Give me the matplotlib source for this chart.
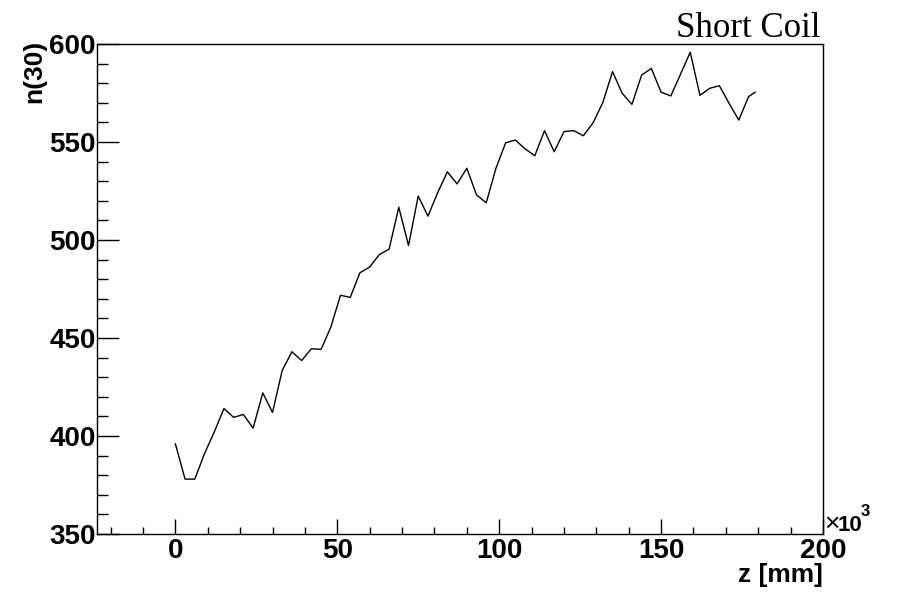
import matplotlib
matplotlib.use("Agg")
import matplotlib.pyplot as plt
from matplotlib.ticker import MultipleLocator

# z positions (x10^3 mm) and n(30) values
z = [0, 3, 6, 9, 12, 15, 18, 21, 24, 27, 30, 33, 36, 39, 42, 45, 48, 51, 54, 57,
     60, 63, 66, 69, 72, 75, 78, 81, 84, 87, 90, 93, 96, 99, 102, 105, 108, 111,
     114, 117, 120, 123, 126, 129, 132, 135, 138, 141, 144, 147, 150, 153, 156,
     159, 162, 165, 168, 171, 174, 177, 179]
n30 = [396, 378, 378, 391, 402, 414, 409.5, 411, 404, 422, 412, 433.5, 443, 438.5,
       444.5, 444.2, 455.5, 471.8, 470.7, 483.3, 486.2, 492.6, 495.3, 516.7, 497.2,
       522.4, 512.2, 524.1, 534.8, 528.6, 536.6, 523, 519, 536.6, 549.6, 551, 546.5,
       543, 555.8, 545, 555.3, 555.8, 553.2, 559.8, 570.1, 585.9, 574.8, 569.2,
       584.2, 587.5, 575.4, 573.5, 584.6, 595.8, 573.8, 577.4, 578.7, 569.7, 561.2,
       573.1, 575.4]

W, H = 898, 595
fig = plt.figure(figsize=(W / 100, H / 100), dpi=100)
ax = fig.add_axes([97 / W, 1 - 534 / H, (823 - 97) / W, (534 - 44) / H])

ax.plot(z, n30, color="black", linewidth=1.0)

ax.set_xlim(-24.2, 200)
ax.set_ylim(350, 600)
ax.xaxis.set_major_locator(MultipleLocator(50))
ax.xaxis.set_minor_locator(MultipleLocator(10))
ax.yaxis.set_major_locator(MultipleLocator(50))
ax.yaxis.set_minor_locator(MultipleLocator(10))

for spine in ax.spines.values():
    spine.set_linewidth(1.0)

tick_font = {"family": "Liberation Sans", "weight": "bold", "size": 19}
ax.tick_params(axis="y", which="major", direction="in", length=16, width=1, pad=1)
ax.tick_params(axis="y", which="minor", direction="in", length=8, width=1)
ax.tick_params(axis="x", which="major", direction="in", length=10.5, width=1, pad=3)
ax.tick_params(axis="x", which="minor", direction="in", length=5.3, width=1)
for lab in ax.get_xticklabels() + ax.get_yticklabels():
    lab.set_fontfamily("Liberation Sans")
    lab.set_fontweight("bold")
    lab.set_fontsize(20)

# axis titles in ROOT style
fig.text(823 / W, 1 - 582 / H, "z [mm]", ha="right", va="baseline", **tick_font)
fig.text(46 / W, 1 - 40 / H, "n(30)", ha="right", va="top", rotation=90, **tick_font)

# exponent label at end of x axis
fig.text(824 / W, 1 - 531 / H, "\u00d7", ha="left", va="baseline",
         family="Liberation Sans", size=19)
fig.text(838 / W, 1 - 531 / H, "10", ha="left", va="baseline",
         family="Liberation Sans", weight="bold", size=16)
fig.text(861 / W, 1 - 516 / H, "3", ha="left", va="baseline",
         family="Liberation Sans", weight="bold", size=12)

fig.text(820 / W, 1 - 37 / H, "Short Coil", ha="right", va="baseline",
         family="Liberation Serif", size=25)

fig.savefig("out.png", dpi=100)
plt.close(fig)
